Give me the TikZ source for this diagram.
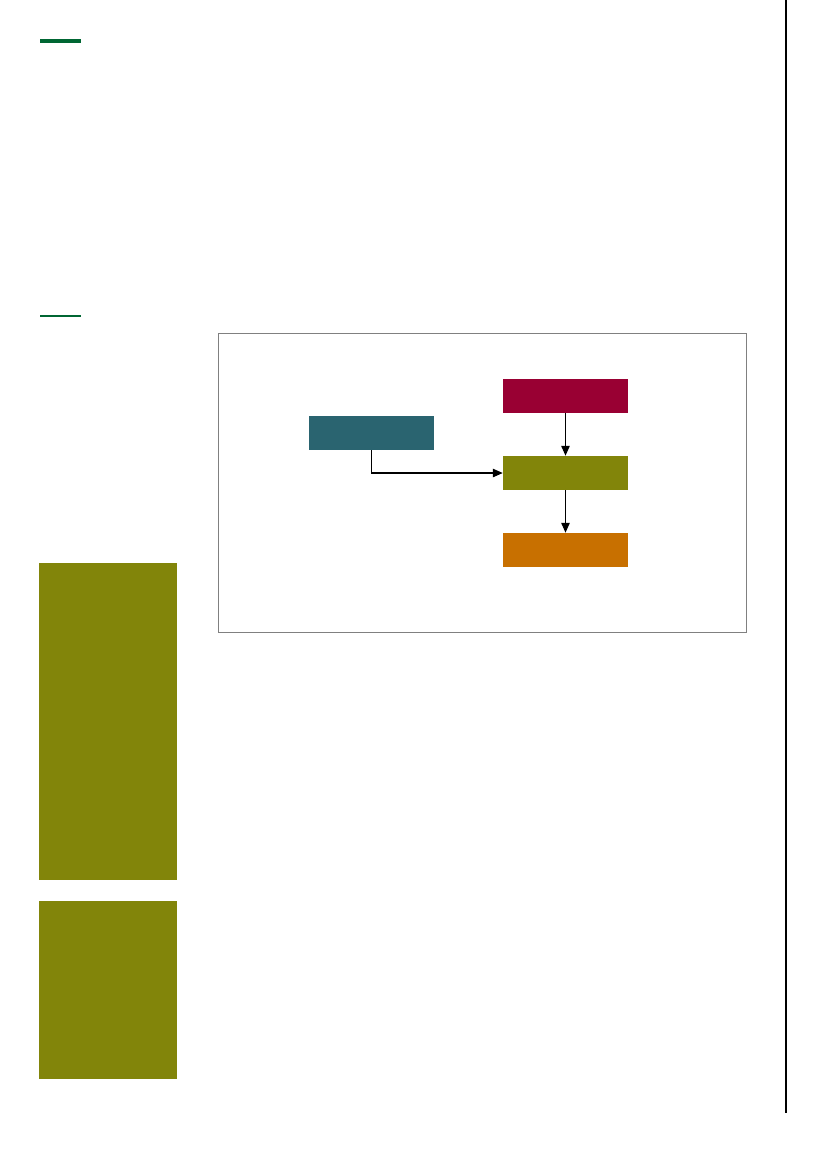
\documentclass[tikz,border=0pt]{standalone}
\usepackage{xcolor}
\usetikzlibrary{arrows.meta}

\definecolor{rulegreen}{RGB}{0,102,51}
\definecolor{boxteal}{RGB}{42,100,112}
\definecolor{boxred}{RGB}{153,0,51}
\definecolor{boxolive}{RGB}{130,133,10}
\definecolor{boxorange}{RGB}{200,112,0}

\begin{document}
\begin{tikzpicture}
  [x=0.7198pt,y=-0.7198pt,
   every node/.style={rectangle,inner sep=0pt,minimum width=90pt,minimum height=24.5pt},
   link/.style={-{Triangle[length=7pt,width=6pt]},line width=0.8pt}]
  \useasboundingbox (0,0) rectangle (827,1169);

  % page rules and side panels
  \fill[rulegreen] (40,39) rectangle (81,43);
  \fill[rulegreen] (40,315) rectangle (81,317);
  \fill[boxolive] (39,563) rectangle (177,880);
  \fill[boxolive] (39,901) rectangle (177,1079);
  \draw[line width=1.1pt] (786,0) -- (786,1113);

  % frame
  \draw[gray,line width=0.6pt] (218,333) rectangle (746,632);

  \node[fill=boxteal]   (src) at (371.5,433) {};
  \node[fill=boxred]    (top) at (565.5,396) {};
  \node[fill=boxolive]  (mid) at (565.5,473) {};
  \node[fill=boxorange] (out) at (565.5,550) {};

  \draw[link] (src.south) |- (mid.west);
  \foreach \from/\to in {top/mid,mid/out}
    \draw[link] (\from) -- (\to);

\end{tikzpicture}
\end{document}
